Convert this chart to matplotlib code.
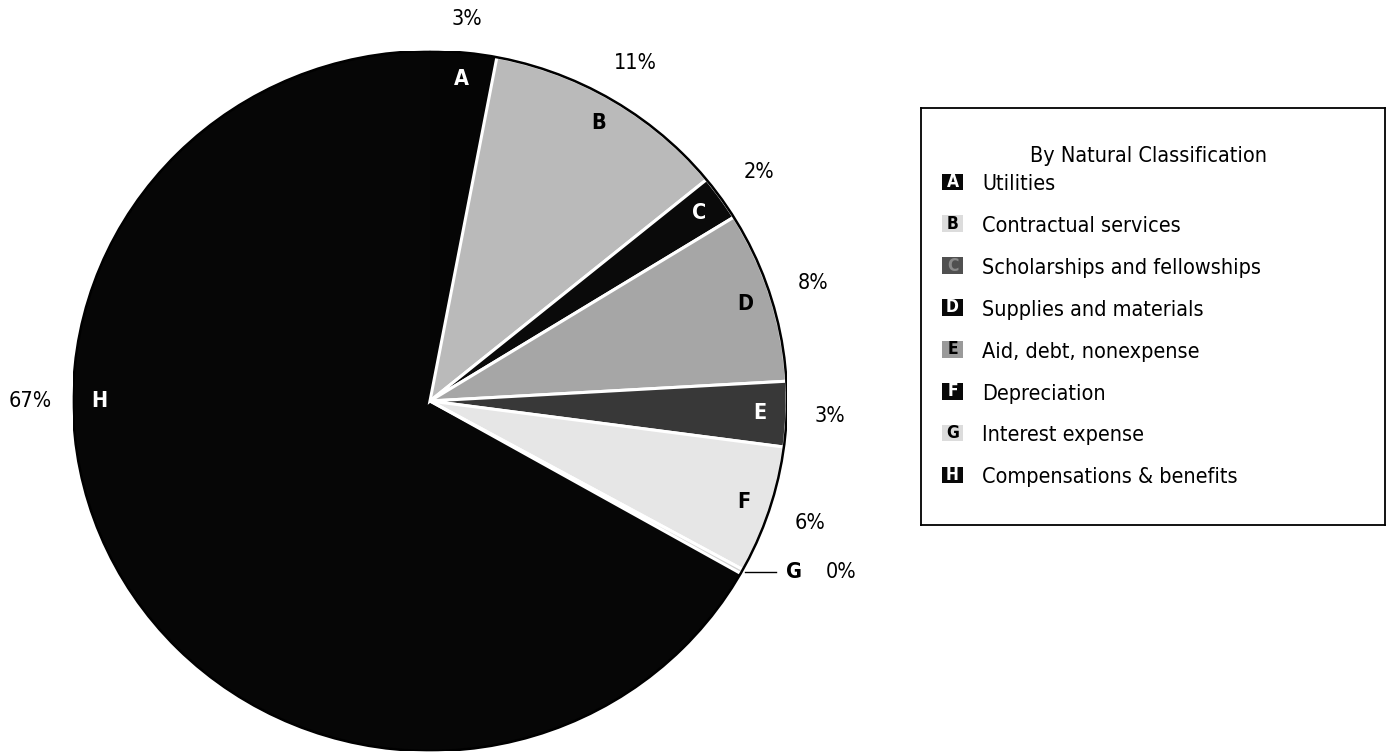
import numpy as np
import matplotlib
matplotlib.use('Agg')
import matplotlib.pyplot as plt
from matplotlib import font_manager
from matplotlib.font_manager import FontProperties
from matplotlib.patches import Circle, Rectangle

# ---- data ----
letters = ['A', 'B', 'C', 'D', 'E', 'F', 'G', 'H']
categories = ['Utilities', 'Contractual services', 'Scholarships and fellowships',
              'Supplies and materials', 'Aid, debt, nonexpense', 'Depreciation',
              'Interest expense', 'Compensations & benefits']
shares = [3.0, 11.1, 2.1, 7.9, 3.0, 5.9, 0.2, 66.8]
pct_labels = ['3%', '11%', '2%', '8%', '3%', '6%', '0%', '67%']
legend_title = 'By Natural Classification'

# ---- style ----
slice_colors = ['#050505', '#bababa', '#0a0a0a', '#a6a6a6', '#383838', '#e6e6e6', '#d0d0d0', '#060606']
slice_white_edge = [False, True, True, True, True, True, True, False]
letter_colors = ['white', 'black', 'white', 'black', 'white', 'black', 'black', 'white']
pct_dist = [1.095, 1.125, 1.13, 1.125, 1.12, 1.12, 1.12, 1.12]
legend_box_colors = ['#080808', '#dcdcdc', '#505050', '#080808', '#9a9a9a', '#080808', '#dcdcdc', '#080808']
legend_letter_colors = ['white', 'black', '#8a8a8a', 'white', 'black', 'white', 'black', 'white']

# ---- font: prefer an installed narrow / condensed sans face ----
def _wt(f):
    w = f.weight
    if isinstance(w, str):
        return {'bold': 700, 'normal': 400, 'regular': 400, 'book': 400}.get(w.lower(), 400)
    return int(w)

reg_file, bold_file = None, None
for f in font_manager.fontManager.ttflist:
    n = f.name.lower()
    if f.style != 'normal' or 'mono' in n or 'cjk' in n:
        continue
    if 'serif' in n and 'sans' not in n:
        continue
    if not (str(f.stretch) in ('condensed', 'semi-condensed', 'extra-condensed', 'ultra-condensed')
            or 'narrow' in n or 'condensed' in n):
        continue
    w = _wt(f)
    if w == 400 and reg_file is None:
        reg_file = f.fname
    if w == 700 and bold_file is None:
        bold_file = f.fname

if reg_file:
    SCALE = 1.0
    def fp(size, bold=False):
        fn = bold_file if (bold and bold_file) else reg_file
        p = FontProperties(fname=fn, size=size)
        if bold and not bold_file:
            p.set_weight('bold')
        return p
else:
    SCALE = 0.91
    def fp(size, bold=False):
        return FontProperties(family=['Liberation Sans', 'DejaVu Sans'], size=size * SCALE,
                              weight='bold' if bold else 'normal')

W, H = 1391, 753
fig = plt.figure(figsize=(W / 100, H / 100), dpi=100)
cx, cy, rx, ry = 430, 401, 357, 350
ax = fig.add_axes([(cx - rx) / W, (H - cy - ry) / H, 2 * rx / W, 2 * ry / H])
wedges, _ = ax.pie(shares, colors=slice_colors, startangle=90, counterclock=False,
                   radius=1.0, wedgeprops=dict(linewidth=2.2))
for w, we, fc in zip(wedges, slice_white_edge, slice_colors):
    if we:
        w.set_edgecolor('white')
        w.set_zorder(2)
    else:
        w.set_edgecolor(fc)
        w.set_linewidth(0.5)
        w.set_zorder(1)
ax.set_aspect('auto')
ax.set_xlim(-1, 1)
ax.set_ylim(-1, 1)
ax.axis('off')
ax.add_patch(Circle((0, 0), 1.0, fill=False, ec='black', lw=1.8, zorder=5))

pct_fs = 15.5
for i, w in enumerate(wedges):
    mid = np.deg2rad((w.theta1 + w.theta2) / 2)
    if letters[i] == 'H':
        mid = np.pi
    if letters[i] == 'G':
        px, py = np.cos(mid), np.sin(mid)
        ax.plot([px + 0.008, px + 0.096], [py, py], color='black', lw=1.0, zorder=6, clip_on=False)
        ax.text(px + 0.146, py, letters[i], ha='center', va='center',
                fontproperties=fp(15.5, True), color='black', zorder=6)
        ax.text(px + 0.278, py, pct_labels[i], ha='center', va='center',
                fontproperties=fp(pct_fs), zorder=6)
        continue
    ax.text(0.925 * np.cos(mid), 0.925 * np.sin(mid), letters[i], ha='center', va='center',
            fontproperties=fp(15.5, True), color=letter_colors[i], zorder=6)
    d = pct_dist[i]
    ax.text(d * np.cos(mid), d * np.sin(mid), pct_labels[i], ha='center', va='center',
            fontproperties=fp(pct_fs), zorder=6, clip_on=False)

# ---- legend ----
lx0, lx1, ly0, ly1 = 921, 1385, 108, 525
lax = fig.add_axes([lx0 / W, (H - ly1) / H, (lx1 - lx0) / W, (ly1 - ly0) / H])
lax.set_xlim(lx0, lx1)
lax.set_ylim(ly1, ly0)
lax.set_xticks([])
lax.set_yticks([])
for s in lax.spines.values():
    s.set_linewidth(1.3)
    s.set_color('black')
lax.text(1148, 162, legend_title, ha='center', va='baseline', fontproperties=fp(15.5))
for i, (lt, cat) in enumerate(zip(letters, categories)):
    base = 190 + 41.9 * i
    lax.add_patch(Rectangle((942, base - 16.5), 21, 16.5, facecolor=legend_box_colors[i],
                            edgecolor='none'))
    lax.text(952.5, base - 8.2, lt, ha='center', va='center', fontproperties=fp(12.5, True),
             color=legend_letter_colors[i])
    lax.text(982, base, cat, ha='left', va='baseline', fontproperties=fp(15.5))

fig.savefig('out.png', dpi=100)
